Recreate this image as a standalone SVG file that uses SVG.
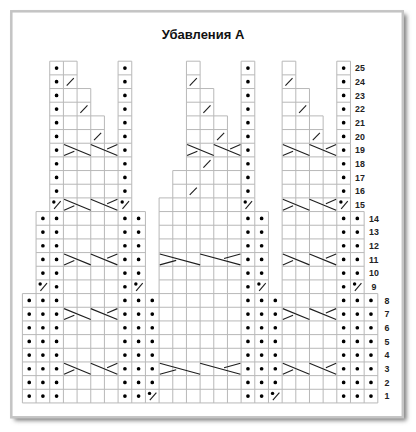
<svg xmlns="http://www.w3.org/2000/svg" xmlns:xlink="http://www.w3.org/1999/xlink" width="416" height="432" viewBox="0 0 416 432">
<style>
.g{fill:none;stroke:#b8b8b8;stroke-width:1;vector-effect:non-scaling-stroke}
.s{fill:none;stroke:#1e1e1e;stroke-width:1.1;vector-effect:non-scaling-stroke}
.dots{fill:none;stroke:#000;stroke-width:0.27;stroke-linecap:round;stroke-dasharray:0 1}
.num{font-family:"Liberation Sans",Arial,sans-serif;font-size:8.8px;font-weight:bold;fill:#222}
.title{font-family:"Liberation Sans",Arial,sans-serif;font-size:13px;font-weight:bold;fill:#111}
</style>
<defs>
<filter id="sh" x="-5%" y="-5%" width="110%" height="110%"><feGaussianBlur stdDeviation="2"/></filter>
<g id="sl"><path class="s" d="M0.24 0.78L0.76 0.24"/></g>
<g id="pd"><circle cx="0.3" cy="0.3" r="0.125" fill="#000"/><path class="s" d="M0.32 0.8L0.8 0.24"/></g>
<g id="cA"><path class="s" d="M0.05 0.1L2 0.9M0.05 0.9L0.8 0.58"/></g>
<g id="cB"><path class="s" d="M0 0.1L1.95 0.9M1.2 0.42L1.95 0.1"/></g>
<g id="cC"><path class="s" d="M0.05 0.1L3 0.9M0.05 0.9L1.25 0.57"/></g>
<g id="cD"><path class="s" d="M0 0.1L2.95 0.9M1.75 0.43L2.95 0.1"/></g>
</defs>
<rect width="416" height="432" fill="#fff"/>
<g id="frame">
<rect x="14.5" y="14.5" width="392" height="406" fill="#7a7a7a" filter="url(#sh)"/>
<rect x="11.3" y="11.3" width="391.5" height="406" fill="#fff" stroke="#c4c4c4" stroke-width="2.5"/>
</g>
<text id="title" class="title" x="203" y="38.5" text-anchor="middle">Убавления А</text>
<g id="chart" transform="translate(22.4,61.2) scale(13.67)">
<g id="grid">
<path class="g" d="M0 17H26M0 18H26M0 19H26M0 20H26M0 21H26M0 22H26M0 23H26M0 24H26M0 25H26M0 17V25M1 17V25M2 17V25M3 17V25M4 17V25M5 17V25M6 17V25M7 17V25M8 17V25M9 17V25M10 17V25M11 17V25M12 17V25M13 17V25M14 17V25M15 17V25M16 17V25M17 17V25M18 17V25M19 17V25M20 17V25M21 17V25M22 17V25M23 17V25M24 17V25M25 17V25M26 17V25"/>
<path class="g" d="M1 11H9M1 12H9M1 13H9M1 14H9M1 15H9M1 16H9M1 11V17M2 11V17M3 11V17M4 11V17M5 11V17M6 11V17M7 11V17M8 11V17M9 11V17"/>
<path class="g" d="M10 11H18M10 12H18M10 13H18M10 14H18M10 15H18M10 16H18M10 11V17M11 11V17M12 11V17M13 11V17M14 11V17M15 11V17M16 11V17M17 11V17M18 11V17"/>
<path class="g" d="M19 11H25M19 12H25M19 13H25M19 14H25M19 15H25M19 16H25M19 11V17M20 11V17M21 11V17M22 11V17M23 11V17M24 11V17M25 11V17"/>
<path class="g" d="M2 6H8M2 7H8M2 8H8M2 9H8M2 10H8M2 6V11M3 6V11M4 6V11M5 6V11M6 6V11M7 6V11M8 6V11M2 0H3M2 1H3M2 2H3M2 3H3M2 4H3M2 5H3M2 0V6M3 0V6M7 0H8M7 1H8M7 2H8M7 3H8M7 4H8M7 5H8M7 0V6M8 0V6M3 4H6M3 5H6M4 4V6M5 4V6M6 4V6M3 2H5M3 3H5M4 2V4M5 2V4M3 0H4M3 1H4M4 0V2"/>
<path class="g" d="M10 10H17M10 10V11M11 10V11M12 10V11M13 10V11M14 10V11M15 10V11M16 10V11M17 10V11M11 8H16M11 9H16M11 8V10M12 8V10M13 8V10M14 8V10M15 8V10M16 8V10M12 6H16M12 7H16M12 6V8M13 6V8M14 6V8M15 6V8M16 6V8M12 4H15M12 5H15M12 4V6M13 4V6M14 4V6M15 4V6M12 2H14M12 3H14M12 2V4M13 2V4M14 2V4M12 0H13M12 1H13M12 0V2M13 0V2M16 0H17M16 1H17M16 2H17M16 3H17M16 4H17M16 5H17M16 6H17M16 7H17M16 8H17M16 9H17M16 0V10M17 0V10"/>
<path class="g" d="M19 6H24M19 7H24M19 8H24M19 9H24M19 10H24M19 6V11M20 6V11M21 6V11M22 6V11M23 6V11M24 6V11M23 0H24M23 1H24M23 2H24M23 3H24M23 4H24M23 5H24M23 0V6M24 0V6M19 4H22M19 5H22M19 4V6M20 4V6M21 4V6M22 4V6M19 2H21M19 3H21M19 2V4M20 2V4M21 2V4M19 0H20M19 1H20M19 0V2M20 0V2"/>
</g>
<g id="purl">
<path class="dots" d="M0.5 17.5V24.6M1.5 11.5V15.6M1.5 17.5V24.6M2.5 0.5V9.6M2.5 11.5V24.6M7.5 0.5V9.6M7.5 11.5V24.6M8.5 11.5V15.6M8.5 17.5V24.6M9.5 17.5V23.6M16.5 0.5V9.6M16.5 11.5V24.6M17.5 11.5V15.6M17.5 17.5V24.6M18.5 17.5V23.6M23.5 0.5V9.6M23.5 11.5V24.6M24.5 11.5V15.6M24.5 17.5V24.6M25.5 17.5V24.6"/>
</g>
<g id="purl-dec">
<use href="#pd" x="9" y="24"/><use href="#pd" x="18" y="24"/>
<use href="#pd" x="1" y="16"/><use href="#pd" x="8" y="16"/><use href="#pd" x="17" y="16"/><use href="#pd" x="24" y="16"/>
<use href="#pd" x="2" y="10"/><use href="#pd" x="7" y="10"/><use href="#pd" x="16" y="10"/><use href="#pd" x="23" y="10"/>
</g>
<g id="knit-dec">
<use href="#sl" x="5" y="5"/><use href="#sl" x="4" y="3"/><use href="#sl" x="3" y="1"/>
<use href="#sl" x="12" y="9"/><use href="#sl" x="13" y="7"/><use href="#sl" x="14" y="5"/><use href="#sl" x="13" y="3"/><use href="#sl" x="12" y="1"/>
<use href="#sl" x="21" y="5"/><use href="#sl" x="20" y="3"/><use href="#sl" x="19" y="1"/>
</g>
<g id="cables">
<use href="#cA" x="3" y="22"/><use href="#cB" x="5" y="22"/><use href="#cA" x="19" y="22"/><use href="#cB" x="21" y="22"/>
<use href="#cA" x="3" y="18"/><use href="#cB" x="5" y="18"/><use href="#cA" x="19" y="18"/><use href="#cB" x="21" y="18"/>
<use href="#cA" x="3" y="14"/><use href="#cB" x="5" y="14"/><use href="#cA" x="19" y="14"/><use href="#cB" x="21" y="14"/>
<use href="#cA" x="3" y="10"/><use href="#cB" x="5" y="10"/><use href="#cA" x="19" y="10"/><use href="#cB" x="21" y="10"/>
<use href="#cA" x="3" y="6"/><use href="#cB" x="5" y="6"/><use href="#cA" x="19" y="6"/><use href="#cB" x="21" y="6"/>
<use href="#cA" x="12" y="6"/><use href="#cB" x="14" y="6"/>
<use href="#cC" x="10" y="22"/><use href="#cD" x="13" y="22"/>
<use href="#cC" x="10" y="14"/><use href="#cD" x="13" y="14"/>
</g>
</g>
<g id="row-numbers">
<text class="num" x="355" y="71.2">25</text>
<text class="num" x="355" y="84.9">24</text>
<text class="num" x="355" y="98.6">23</text>
<text class="num" x="355" y="112.2">22</text>
<text class="num" x="355" y="125.9">21</text>
<text class="num" x="355" y="139.6">20</text>
<text class="num" x="355" y="153.3">19</text>
<text class="num" x="355" y="166.9">18</text>
<text class="num" x="355" y="180.6">17</text>
<text class="num" x="355" y="194.3">16</text>
<text class="num" x="355" y="207.9">15</text>
<text class="num" x="369" y="221.6">14</text>
<text class="num" x="369" y="235.3">13</text>
<text class="num" x="369" y="248.9">12</text>
<text class="num" x="369" y="262.6">11</text>
<text class="num" x="369" y="276.3">10</text>
<text class="num" x="371.5" y="290">9</text>
<text class="num" x="384.5" y="303.6">8</text>
<text class="num" x="384.5" y="317.3">7</text>
<text class="num" x="384.5" y="331">6</text>
<text class="num" x="384.5" y="344.6">5</text>
<text class="num" x="384.5" y="358.3">4</text>
<text class="num" x="384.5" y="372">3</text>
<text class="num" x="384.5" y="385.7">2</text>
<text class="num" x="384.5" y="399.3">1</text>
</g>
</svg>
